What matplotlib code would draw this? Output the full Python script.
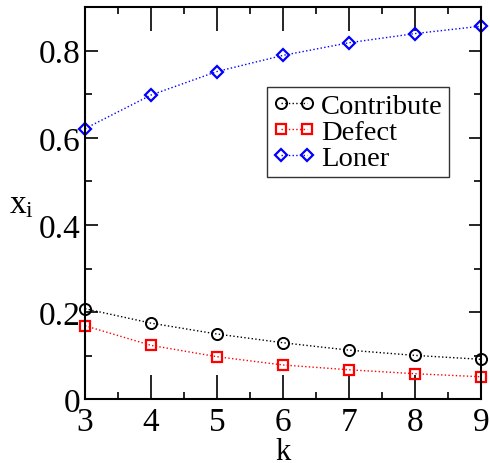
import matplotlib
matplotlib.use('Agg')
import matplotlib.pyplot as plt
from matplotlib.ticker import MultipleLocator, FuncFormatter

plt.rcParams['font.family'] = ['Liberation Serif', 'DejaVu Serif']
plt.rcParams['mathtext.fontset'] = 'custom'
plt.rcParams['mathtext.rm'] = 'Liberation Serif'
plt.rcParams['mathtext.it'] = 'Liberation Serif'

k = [3, 4, 5, 6, 7, 8, 9]
contribute = [0.208, 0.175, 0.150, 0.130, 0.113, 0.101, 0.092]
defect = [0.169, 0.124, 0.098, 0.079, 0.068, 0.059, 0.052]
loner = [0.621, 0.698, 0.752, 0.789, 0.818, 0.839, 0.856]

fig = plt.figure(figsize=(4.9, 4.64), dpi=100)
ax = fig.add_axes([0.1735, 0.137, 0.808, 0.8458])

ax.plot(k, contribute, color='black', linestyle=':', linewidth=1, marker='o',
        markersize=8, markerfacecolor='none', markeredgewidth=1.4,
        label='Contribute', clip_on=False)
ax.plot(k, defect, color='red', linestyle=':', linewidth=1, marker='s',
        markersize=7.5, markerfacecolor='none', markeredgewidth=1.6,
        label='Defect', clip_on=False)
ax.plot(k, loner, color='blue', linestyle=':', linewidth=1, marker='D',
        markersize=6.5, markerfacecolor='none', markeredgewidth=1.6,
        label='Loner', clip_on=False)

ax.set_xlim(3, 9)
ax.set_ylim(0, 0.9)
ax.xaxis.set_major_locator(MultipleLocator(1))
ax.xaxis.set_minor_locator(MultipleLocator(0.5))
ax.yaxis.set_major_locator(MultipleLocator(0.2))
ax.yaxis.set_minor_locator(MultipleLocator(0.1))
ax.yaxis.set_major_formatter(FuncFormatter(lambda v, p: '0' if abs(v) < 1e-9 else '%g' % v))

ax.tick_params(which='both', direction='in', top=True, right=True,
               labelsize=24, width=1.2)
ax.tick_params(axis='x', which='major', length=17, pad=5)
ax.tick_params(axis='x', which='minor', length=5)
ax.tick_params(axis='y', which='major', length=9, pad=3)
ax.tick_params(axis='y', which='minor', length=5)
for s in ax.spines.values():
    s.set_linewidth(1.5)

ax.set_xlabel('k', fontsize=22, labelpad=0)
ax.set_ylabel(r'$\mathrm{x}_\mathrm{i}$', fontsize=24, rotation=0)
ax.yaxis.set_label_coords(-0.16, 0.46)

leg = ax.legend(loc='upper left', bbox_to_anchor=(0.46, 0.795), numpoints=2,
                fontsize=20.5, frameon=True, fancybox=False, handlelength=1.5,
                handletextpad=0.2, borderpad=0.2, labelspacing=0.0,
                borderaxespad=0)
leg.get_frame().set_edgecolor('black')
leg.get_frame().set_linewidth(1.0)

fig.savefig('out.png', dpi=100)
